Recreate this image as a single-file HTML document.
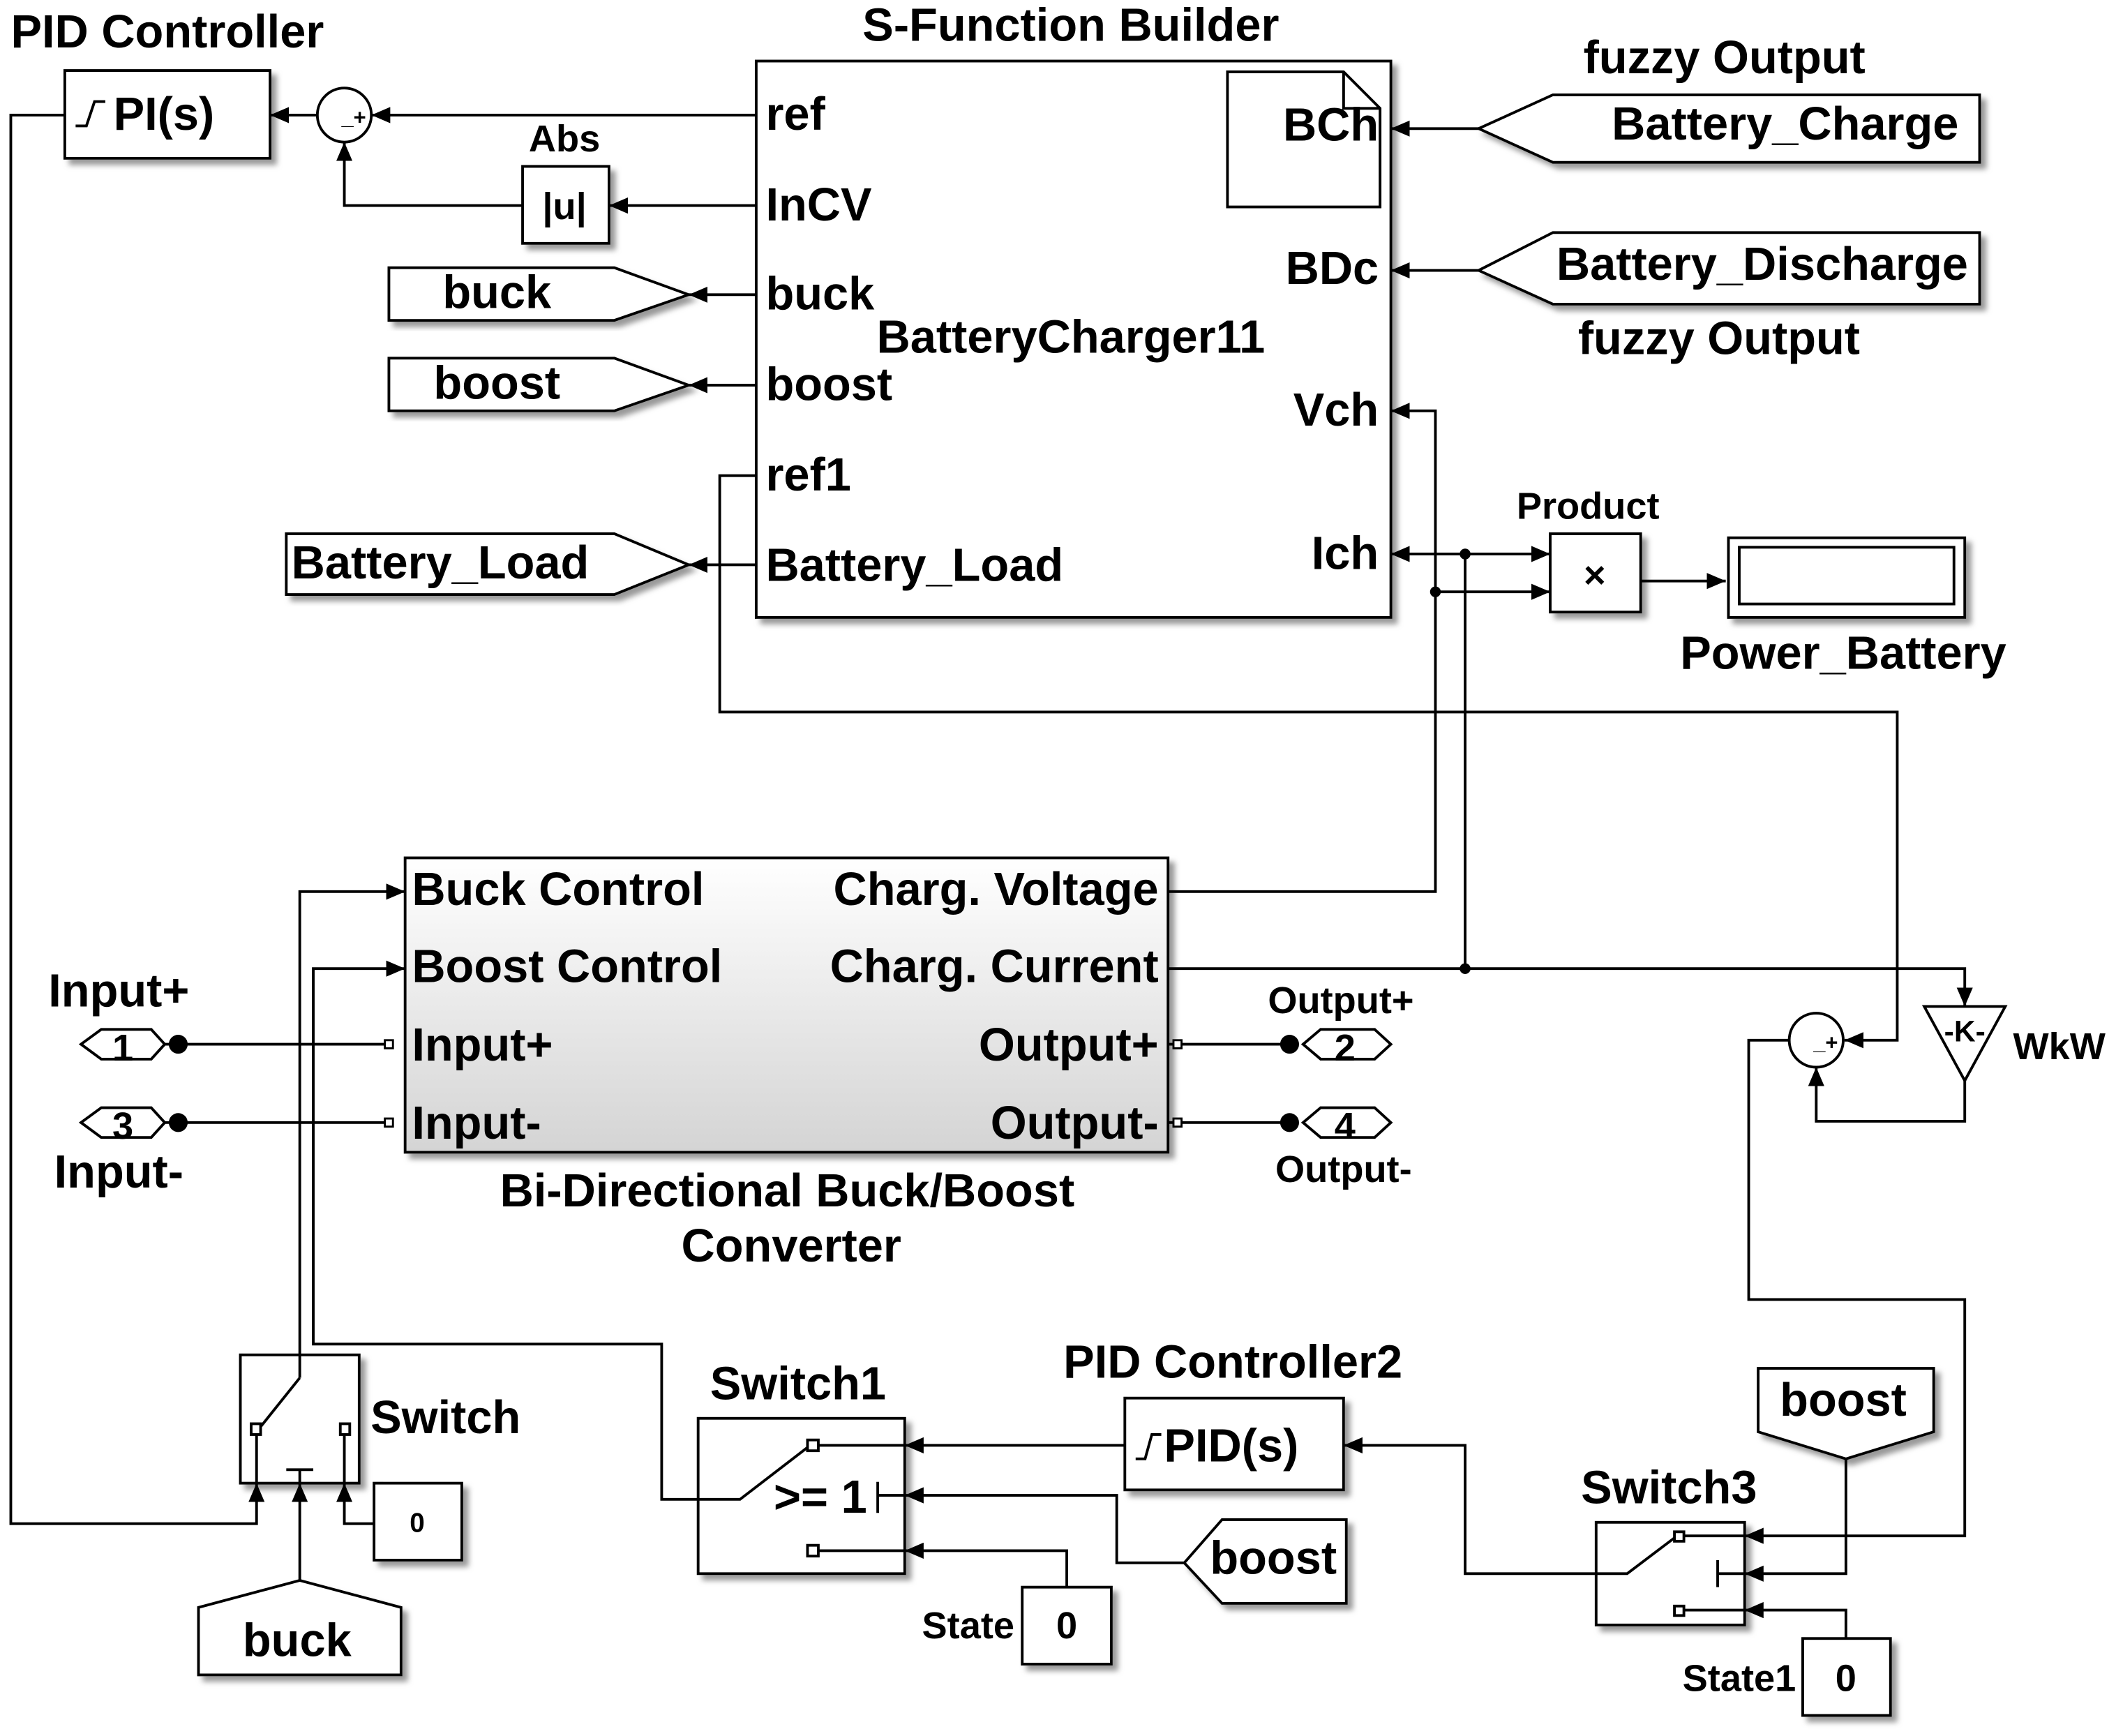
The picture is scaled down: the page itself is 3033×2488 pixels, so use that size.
<!DOCTYPE html>
<html><head><meta charset="utf-8"><style>
html,body{margin:0;padding:0;background:#fff;}
svg{display:block}
text{font-family:"Liberation Sans",Arial,sans-serif;font-weight:bold;fill:#000}
</style></head><body>
<svg width="3033" height="2488" viewBox="0 0 1567 1285" xmlns="http://www.w3.org/2000/svg">
<defs>
<marker id="a" markerWidth="14" markerHeight="12" refX="14" refY="6" orient="auto" markerUnits="userSpaceOnUse"><path d="M0,0 L14,6 L0,12 z" fill="#000"/></marker>
<linearGradient id="g" x1="0" y1="0" x2="0" y2="1"><stop offset="0" stop-color="#fff"/><stop offset="1" stop-color="#d4d4d4"/></linearGradient>
<filter id="s" x="-10%" y="-10%" width="130%" height="130%"><feDropShadow dx="4" dy="4" stdDeviation="2" flood-color="#999"/></filter>
</defs>
<g fill="none" stroke="#000" stroke-width="2">
<rect x="48" y="52" width="152" height="65" fill="#fff" filter="url(#s)"/>
<circle cx="255" cy="85" r="20" fill="#fff"/>
<rect x="387" y="123" width="64" height="57" fill="#fff" filter="url(#s)"/>
<rect x="560" y="45" width="470" height="412" fill="#fff" filter="url(#s)"/>
<path d="M909,53 H995 L1022,80 V153 H909 Z M995,53 V80 H1022"/>
<path d="M288,198 H455 L510,218 L455,237 H288 Z" fill="#fff" filter="url(#s)"/>
<path d="M288,265 H455 L510,285 L455,304 H288 Z" fill="#fff" filter="url(#s)"/>
<path d="M212,395 H455 L510,418 L455,440 H212 Z" fill="#fff" filter="url(#s)"/>
<path d="M1095,95 L1150,70 H1466 V120 H1150 Z" fill="#fff" filter="url(#s)"/>
<path d="M1095,200 L1150,172 H1466 V225 H1150 Z" fill="#fff" filter="url(#s)"/>
<rect x="1148" y="395" width="67" height="58" fill="#fff" filter="url(#s)"/>
<rect x="1280" y="398" width="175" height="59" fill="#fff" filter="url(#s)"/>
<rect x="1288" y="405" width="159" height="42"/>
<rect x="300" y="635" width="565" height="218" fill="url(#g)" filter="url(#s)"/>
<path d="M60,773 L75,762 H112 L122,773 L112,784 H75 Z" fill="#fff"/>
<path d="M60,831 L75,820 H112 L122,831 L112,842 H75 Z" fill="#fff"/>
<path d="M965,773 L978,762 H1018 L1030,773 L1018,784 H978 Z" fill="#fff"/>
<path d="M965,831 L978,820 H1018 L1030,831 L1018,842 H978 Z" fill="#fff"/>
<path d="M1425,745 H1485 L1455,800 Z" fill="#fff"/>
<circle cx="1345" cy="770" r="20" fill="#fff"/>
<rect x="178" y="1003" width="88" height="95" fill="#fff" filter="url(#s)"/>
<rect x="277" y="1098" width="65" height="57" fill="#fff" filter="url(#s)"/>
<path d="M147,1190 L222,1170 L297,1190 V1240 H147 Z" fill="#fff" filter="url(#s)"/>
<rect x="517" y="1050" width="153" height="115" fill="#fff" filter="url(#s)"/>
<rect x="833" y="1035" width="162" height="68" fill="#fff" filter="url(#s)"/>
<path d="M877,1157 L905,1125 H997 V1187 H905 Z" fill="#fff" filter="url(#s)"/>
<rect x="757" y="1175" width="66" height="57" fill="#fff" filter="url(#s)"/>
<rect x="1182" y="1127" width="110" height="76" fill="#fff" filter="url(#s)"/>
<path d="M1302,1013 H1432 V1060 L1367,1080 L1302,1060 Z" fill="#fff" filter="url(#s)"/>
<rect x="1335" y="1213" width="65" height="57" fill="#fff" filter="url(#s)"/>
<path d="M56,93 H64 L70,75 H78"/>
<path d="M190,1060 L222,1020 M222,1003 V1020 M212,1088 H232 M222,1088 V1098 M190,1060 V1098 M255,1060 V1098"/>
<rect x="186" y="1054" width="7" height="8" fill="#fff"/><rect x="252" y="1054" width="7" height="8" fill="#fff"/>
<path d="M517,1110 H548 L600,1070 M600,1070 H670 M650,1097 V1120 M650,1107 H670 M600,1148 H670"/>
<rect x="598" y="1066" width="8" height="8" fill="#fff"/><rect x="598" y="1144" width="8" height="8" fill="#fff"/>
<path d="M841,1080 H848 L853,1062 H860"/>
<path d="M1182,1165 H1205 L1242,1137 H1292 M1272,1155 V1175 M1272,1165 H1292 M1242,1192 H1292"/>
<rect x="1240" y="1134" width="7" height="7" fill="#fff"/><rect x="1240" y="1189" width="7" height="7" fill="#fff"/>
<path d="M560,85 H275" marker-end="url(#a)"/>
<path d="M235,85 H200" marker-end="url(#a)"/>
<path d="M560,152 H451" marker-end="url(#a)"/>
<path d="M387,152 H255 V105" marker-end="url(#a)"/>
<path d="M48,85 H8 V1128 H190 V1098" marker-end="url(#a)"/>
<path d="M560,218 H510" marker-end="url(#a)"/>
<path d="M560,285 H510" marker-end="url(#a)"/>
<path d="M560,418 H510" marker-end="url(#a)"/>
<path d="M1095,95 H1030" marker-end="url(#a)"/>
<path d="M1095,200 H1030" marker-end="url(#a)"/>
<path d="M865,660 H1063 V304 H1030" marker-end="url(#a)"/>
<path d="M1085,717 V410 H1030" marker-end="url(#a)"/>
<path d="M1085,410 H1148" marker-end="url(#a)"/>
<path d="M1063,438 H1148" marker-end="url(#a)"/>
<path d="M1215,430 H1278" marker-end="url(#a)"/>
<path d="M560,352 H533 V527 H1405 V770 H1366" marker-end="url(#a)"/>
<path d="M865,717 H1455 V745" marker-end="url(#a)"/>
<path d="M1455,800 V830 H1345 V790" marker-end="url(#a)"/>
<path d="M1325,770 H1295 V962 H1455 V1137 H1292" marker-end="url(#a)"/>
<path d="M122,773 H288 M122,831 H288 M865,773 H955 M865,831 H955"/>
<path d="M222,1003 V660 H300" marker-end="url(#a)"/>
<path d="M517,1110 H490 V995 H232 V717 H300" marker-end="url(#a)"/>
<path d="M277,1128 H255 V1098" marker-end="url(#a)"/>
<path d="M222,1170 V1098" marker-end="url(#a)"/>
<path d="M833,1070 H670" marker-end="url(#a)"/>
<path d="M877,1157 H827 V1107 H670" marker-end="url(#a)"/>
<path d="M790,1175 V1148 H670" marker-end="url(#a)"/>
<path d="M1182,1165 H1085 V1070 H995" marker-end="url(#a)"/>
<path d="M1367,1080 V1165 H1292" marker-end="url(#a)"/>
<path d="M1367,1213 V1192 H1292" marker-end="url(#a)"/>
</g>
<g fill="#000">
<circle cx="1085" cy="410" r="4"/><circle cx="1063" cy="438" r="4"/><circle cx="1085" cy="717" r="4"/>
<circle cx="132" cy="773" r="7"/><circle cx="132" cy="831" r="7"/><circle cx="955" cy="773" r="7"/><circle cx="955" cy="831" r="7"/>
</g>
<g fill="#fff" stroke="#000" stroke-width="1.5">
<rect x="285" y="770" width="6" height="6"/><rect x="285" y="828" width="6" height="6"/>
<rect x="869" y="770" width="6" height="6"/><rect x="869" y="828" width="6" height="6"/>
</g>
<g font-size="34.5">
<text x="8" y="35">PID Controller</text>
<text x="84" y="96">PI(s)</text>
<text x="793" y="30" text-anchor="middle">S-Function Builder</text>
<text x="567" y="96">ref</text><text x="567" y="163">InCV</text><text x="567" y="229">buck</text>
<text x="567" y="296">boost</text><text x="567" y="363">ref1</text><text x="567" y="430">Battery_Load</text>
<text x="1021" y="104" text-anchor="end">BCh</text><text x="1021" y="210" text-anchor="end">BDc</text>
<text x="1021" y="315" text-anchor="end">Vch</text><text x="1021" y="421" text-anchor="end">Ich</text>
<text x="793" y="261" text-anchor="middle">BatteryCharger11</text>
<text x="368" y="228" text-anchor="middle">buck</text><text x="368" y="295" text-anchor="middle">boost</text>
<text x="326" y="428" text-anchor="middle">Battery_Load</text>
<text x="1277" y="54" text-anchor="middle">fuzzy Output</text>
<text x="1322" y="103" text-anchor="middle">Battery_Charge</text>
<text x="1305" y="207" text-anchor="middle">Battery_Discharge</text>
<text x="1273" y="262" text-anchor="middle">fuzzy Output</text>
<text x="1365" y="495" text-anchor="middle">Power_Battery</text>
<text x="305" y="670">Buck Control</text><text x="305" y="727">Boost Control</text>
<text x="305" y="785">Input+</text><text x="305" y="843">Input-</text>
<text x="858" y="670" text-anchor="end">Charg. Voltage</text><text x="858" y="727" text-anchor="end">Charg. Current</text>
<text x="858" y="785" text-anchor="end">Output+</text><text x="858" y="843" text-anchor="end">Output-</text>
<text x="583" y="893" text-anchor="middle">Bi-Directional Buck/Boost</text>
<text x="586" y="934" text-anchor="middle">Converter</text>
<text x="88" y="745" text-anchor="middle">Input+</text><text x="88" y="879" text-anchor="middle">Input-</text>
<text x="330" y="1061" text-anchor="middle">Switch</text>
<text x="220" y="1226" text-anchor="middle">buck</text>
<text x="591" y="1036" text-anchor="middle">Switch1</text>
<text x="573" y="1120">&gt;= 1</text>
<text x="913" y="1020" text-anchor="middle">PID Controller2</text>
<text x="862" y="1082">PID(s)</text>
<text x="943" y="1165" text-anchor="middle">boost</text>
<text x="1236" y="1113" text-anchor="middle">Switch3</text>
<text x="1365" y="1048" text-anchor="middle">boost</text>
<text x="91" y="785" text-anchor="middle" font-size="28">1</text><text x="91" y="843" text-anchor="middle" font-size="28">3</text>
<text x="996" y="785" text-anchor="middle" font-size="28">2</text><text x="996" y="843" text-anchor="middle" font-size="28">4</text>
</g>
<g font-size="28">
<text x="418" y="112" text-anchor="middle">Abs</text>
<text x="418" y="162" text-anchor="middle">|u|</text>
<text x="1176" y="384" text-anchor="middle">Product</text>
<text x="1181" y="435" text-anchor="middle" font-weight="normal">×</text>
<text x="993" y="750" text-anchor="middle">Output+</text><text x="995" y="875" text-anchor="middle">Output-</text>
<text x="1455" y="771" text-anchor="middle" font-size="22">-K-</text>
<text x="1525" y="784" text-anchor="middle">WkW</text>
<text x="309" y="1134" text-anchor="middle" font-size="20">0</text>
<text x="717" y="1213" text-anchor="middle">State</text>
<text x="790" y="1213" text-anchor="middle">0</text>
<text x="1288" y="1252" text-anchor="middle">State1</text>
<text x="1367" y="1252" text-anchor="middle">0</text>
<text x="262" y="92" text-anchor="middle" font-size="16">_+</text>
<text x="1352" y="777" text-anchor="middle" font-size="16">_+</text>
</g>
</svg>
</body></html>
